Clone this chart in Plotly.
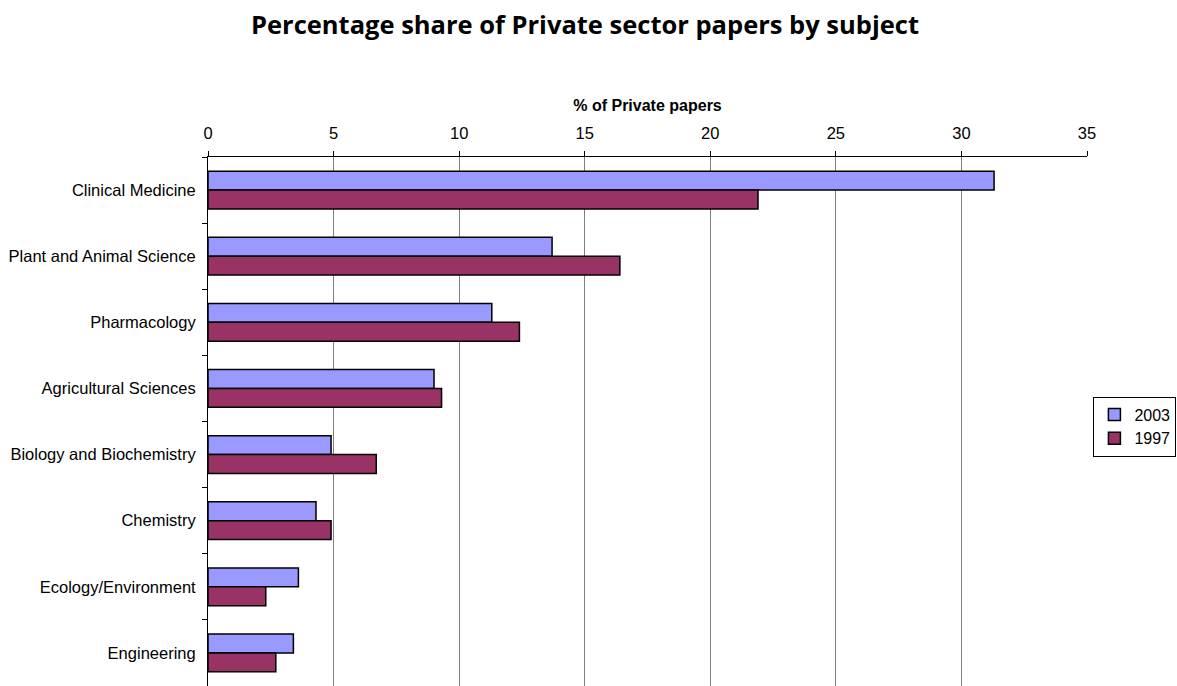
import plotly.graph_objects as go

subjects = [
    "Clinical Medicine",
    "Plant and Animal Science",
    "Pharmacology",
    "Agricultural Sciences",
    "Biology and Biochemistry",
    "Chemistry",
    "Ecology/Environment",
    "Engineering",
]
share_2003 = [31.3, 13.7, 11.3, 9.0, 4.9, 4.3, 3.6, 3.4]
share_1997 = [21.9, 16.4, 12.4, 9.3, 6.7, 4.9, 2.3, 2.7]
x_ticks = [0, 5, 10, 15, 20, 25, 30, 35]

fig = go.Figure()
fig.add_trace(go.Bar(
    y=subjects, x=share_2003, name="2003", orientation="h",
    marker=dict(color="#9999FF", line=dict(color="#000000", width=1.5)),
))
fig.add_trace(go.Bar(
    y=subjects, x=share_1997, name="1997", orientation="h",
    marker=dict(color="#993366", line=dict(color="#000000", width=1.5)),
))

fig.update_layout(
    width=1177, height=686,
    margin=dict(l=208, r=90, t=157, b=0, autoexpand=False),
    paper_bgcolor="white", plot_bgcolor="white",
    barmode="group", bargap=0.43, bargroupgap=0,
    title=dict(
        text="<b>Percentage share of Private sector papers by subject</b>",
        x=0.497, xanchor="center", y=0.963, yanchor="middle",
        font=dict(family="Open Sans", size=25.5, color="black"),
    ),
    font=dict(family="Liberation Sans, Arial", size=16.5, color="black"),
    legend=dict(
        xref="container", yref="container",
        x=0.9995, xanchor="right", y=0.422, yanchor="top",
        bordercolor="black", borderwidth=1, bgcolor="white",
        font=dict(size=16), itemwidth=30, tracegroupgap=0,
    ),
    xaxis=dict(
        side="top", range=[0, 35], tickvals=x_ticks,
        showgrid=True, gridcolor="#808080", gridwidth=1,
        showline=True, linecolor="black", linewidth=1,
        ticks="outside", ticklen=5, tickcolor="black",
        ticklabelstandoff=5,
        zeroline=False,
        title=dict(text="<b>% of Private papers</b>", font=dict(size=16), standoff=8),
    ),
    yaxis=dict(
        autorange="reversed",
        showline=True, linecolor="black", linewidth=1,
        ticks="outside", ticklen=5, tickcolor="black",
        tickson="boundaries", showgrid=False,
        ticklabelstandoff=8,
    ),
)

fig.write_html("out.html")
